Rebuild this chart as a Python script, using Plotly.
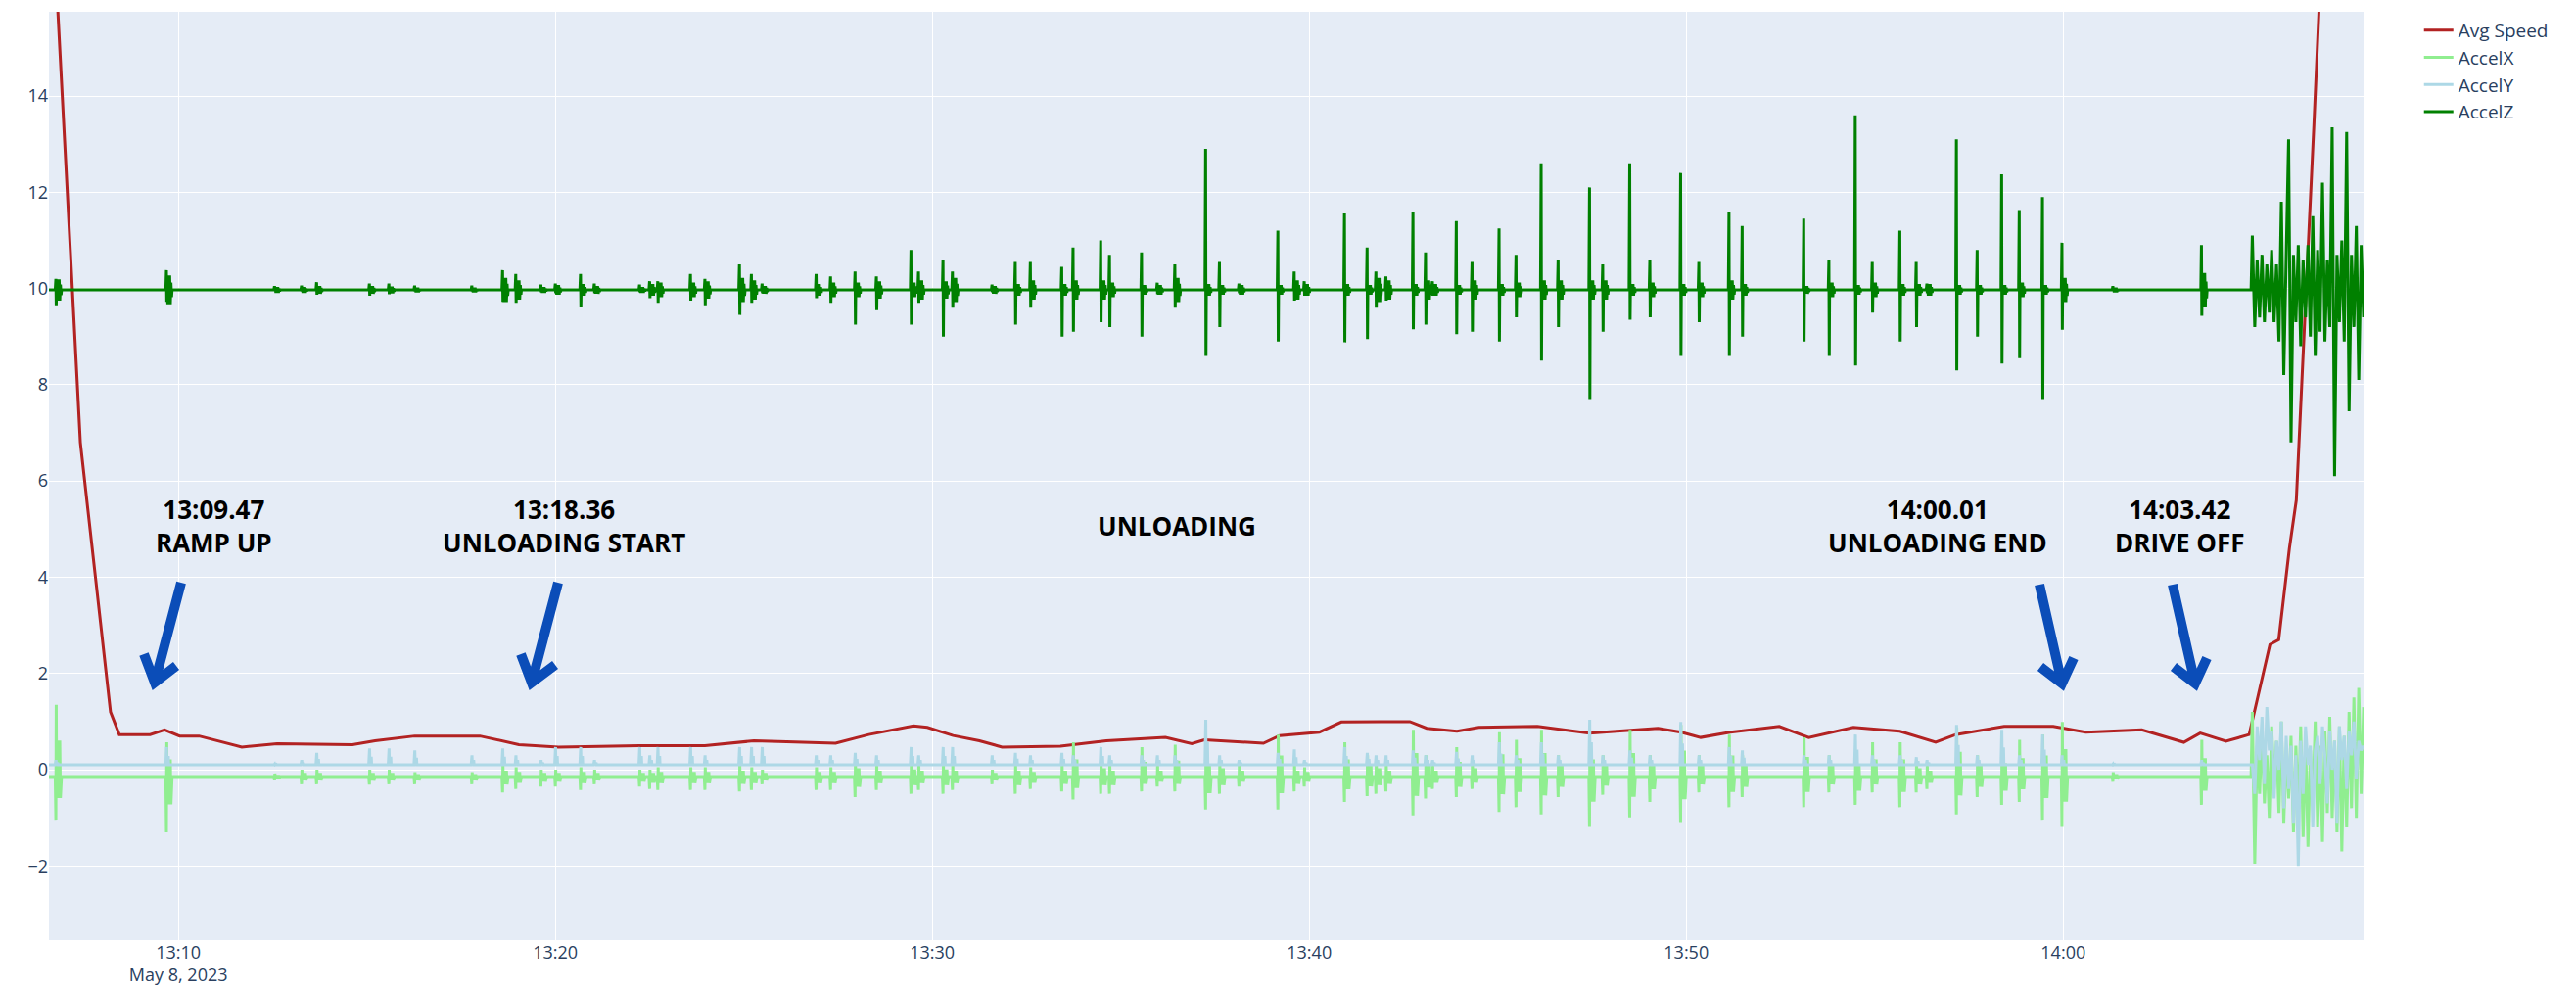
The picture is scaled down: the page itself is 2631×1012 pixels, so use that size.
import pandas as pd
import plotly.graph_objects as go

DAY = "2023-05-08"

# ---------------- data ----------------
speed_times = ["13:06:34", "13:06:48", "13:07:05", "13:07:24", "13:07:48", "13:08:12", "13:08:26",
               "13:09:15", "13:09:38", "13:10:02", "13:10:33", "13:11:41", "13:12:37", "13:14:37",
               "13:15:13", "13:16:16", "13:18:00", "13:19:02", "13:20:05", "13:22:14", "13:23:58",
               "13:25:16", "13:27:26", "13:28:19", "13:29:30", "13:29:52", "13:30:33", "13:31:15",
               "13:31:51", "13:33:24", "13:34:37", "13:36:11", "13:36:53", "13:37:13", "13:38:47",
               "13:39:13", "13:40:16", "13:40:51", "13:41:54", "13:42:40", "13:43:07", "13:43:55",
               "13:44:30", "13:46:03", "13:47:26", "13:49:15", "13:49:52", "13:50:23", "13:51:10",
               "13:52:28", "13:53:15", "13:54:26", "13:55:40", "13:56:37", "13:57:09", "13:58:26",
               "13:59:44", "14:00:36", "14:02:05", "14:03:12", "14:03:38", "14:04:19", "14:04:56",
               "14:05:04", "14:05:29", "14:05:43", "14:06:00", "14:06:11", "14:06:19", "14:06:30",
               "14:06:39", "14:06:47", "14:06:58"]
speed_values = [19.3, 15.75, 11.5, 6.8, 4.0, 1.2, 0.73,
                0.73, 0.83, 0.70, 0.70, 0.47, 0.54, 0.52,
                0.60, 0.70, 0.70, 0.52, 0.47, 0.50, 0.50,
                0.60, 0.55, 0.73, 0.91, 0.88, 0.71, 0.60,
                0.47, 0.49, 0.60, 0.67, 0.54, 0.62, 0.55,
                0.71, 0.78, 0.99, 1.00, 1.00, 0.86, 0.80,
                0.88, 0.90, 0.76, 0.86, 0.78, 0.67, 0.78,
                0.90, 0.67, 0.88, 0.80, 0.57, 0.73, 0.90,
                0.90, 0.78, 0.83, 0.57, 0.76, 0.59, 0.73,
                1.19, 2.6, 2.7, 4.6, 5.6, 7.8, 10.6,
                13.4, 15.75, 18.5]

burst_times = ["13:06:45", "13:09:41", "13:12:33", "13:13:16", "13:13:40", "13:15:04", "13:15:35",
               "13:16:16", "13:17:47", "13:18:36", "13:18:57", "13:19:37", "13:20:00", "13:20:40",
               "13:21:02", "13:22:14", "13:22:30", "13:22:43", "13:23:35", "13:23:58", "13:24:53",
               "13:25:12", "13:25:29", "13:26:55", "13:27:18", "13:27:57", "13:28:31", "13:29:26",
               "13:29:38", "13:30:17", "13:30:32", "13:31:35", "13:32:12", "13:32:36", "13:33:26",
               "13:33:44", "13:34:28", "13:34:42", "13:35:33", "13:35:58", "13:36:26", "13:37:15",
               "13:37:37", "13:38:08", "13:39:10", "13:39:36", "13:39:52", "13:40:56", "13:41:32",
               "13:41:46", "13:42:02", "13:42:45", "13:43:05", "13:43:16", "13:43:54", "13:44:19",
               "13:45:02", "13:45:29", "13:46:09", "13:46:36", "13:47:26", "13:47:47", "13:48:30",
               "13:49:02", "13:49:51", "13:50:20", "13:51:08", "13:51:29", "13:53:07", "13:53:47",
               "13:54:29", "13:54:56", "13:55:40", "13:56:06", "13:56:23", "13:57:10", "13:57:43",
               "13:58:22", "13:58:50", "13:59:27", "13:59:58", "14:01:19", "14:03:40"]
accel_z_high = [10.2, 10.38, 10.05, 10.06, 10.13, 10.1, 10.1,
                10.06, 10.06, 10.38, 10.3, 10.08, 10.1, 10.3,
                10.1, 10.08, 10.15, 10.15, 10.3, 10.2, 10.5,
                10.3, 10.1, 10.3, 10.25, 10.35, 10.25, 10.8,
                10.35, 10.6, 10.35, 10.08, 10.55, 10.55, 10.45,
                10.85, 11.0, 10.7, 10.75, 10.12, 10.5, 12.9,
                10.55, 10.1, 11.2, 10.35, 10.15, 11.56, 10.85,
                10.35, 10.25, 11.6, 10.75, 10.15, 11.4, 10.55,
                11.25, 10.7, 12.6, 10.6, 12.1, 10.5, 12.6,
                10.6, 12.4, 10.55, 11.6, 11.3, 11.45, 10.6,
                13.6, 10.55, 11.2, 10.55, 10.1, 13.1, 10.8,
                12.37, 11.63, 11.9, 10.95, 10.05, 10.9]
accel_z_low = [9.65, 9.72, 9.95, 9.94, 9.87, 9.85, 9.88,
               9.94, 9.94, 9.72, 9.7, 9.92, 9.9, 9.62,
               9.9, 9.92, 9.8, 9.7, 9.75, 9.65, 9.45,
               9.7, 9.9, 9.8, 9.7, 9.25, 9.55, 9.25,
               9.7, 9.0, 9.6, 9.92, 9.25, 9.6, 9.0,
               9.1, 9.3, 9.2, 9.0, 9.88, 9.6, 8.6,
               9.2, 9.9, 8.9, 9.75, 9.85, 8.88, 8.95,
               9.6, 9.75, 9.15, 9.25, 9.85, 9.05, 9.1,
               8.9, 9.4, 8.5, 9.2, 7.7, 9.1, 9.35,
               9.4, 8.6, 9.3, 8.6, 9.0, 8.9, 8.6,
               8.4, 9.5, 8.9, 9.2, 9.9, 8.3, 9.0,
               8.44, 8.55, 7.7, 9.14, 9.95, 9.43]
accel_z_body = [0.22, 0.3, 0.06, 0.06, 0.08, 0.08, 0.07,
                0.05, 0.05, 0.25, 0.2, 0.06, 0.1, 0.12,
                0.08, 0.06, 0.12, 0.15, 0.15, 0.18, 0.25,
                0.2, 0.08, 0.12, 0.15, 0.15, 0.18, 0.15,
                0.2, 0.18, 0.25, 0.08, 0.12, 0.2, 0.12,
                0.2, 0.2, 0.15, 0.1, 0.1, 0.25, 0.12,
                0.1, 0.1, 0.1, 0.2, 0.12, 0.12, 0.1,
                0.25, 0.2, 0.12, 0.2, 0.12, 0.1, 0.2,
                0.12, 0.15, 0.2, 0.2, 0.2, 0.2, 0.12,
                0.15, 0.12, 0.15, 0.2, 0.12, 0.08, 0.15,
                0.1, 0.15, 0.12, 0.12, 0.12, 0.1, 0.1,
                0.1, 0.15, 0.1, 0.25, 0.05, 0.35]
accel_x_high = [1.35, 0.57, -0.08, 0.0, 0.0, 0.0, 0.0,
                -0.05, -0.05, 0.1, 0.05, 0.0, 0.0, 0.05,
                0.0, 0.0, 0.0, 0.05, 0.05, 0.05, 0.1,
                0.05, 0.0, 0.05, 0.05, 0.2, 0.1, 0.15,
                0.1, 0.15, 0.1, 0.0, 0.1, 0.05, 0.1,
                0.57, 0.2, 0.1, 0.47, 0.1, 0.52, 0.3,
                0.2, 0.1, 0.73, 0.1, 0.05, 0.57, 0.3,
                0.2, 0.1, 0.83, 0.3, 0.1, 0.47, 0.2,
                0.78, 0.62, 0.83, 0.3, 0.57, 0.3, 0.83,
                0.3, 0.93, 0.3, 0.73, 0.3, 0.67, 0.3,
                0.3, 0.57, 0.57, 0.2, 0.1, 0.88, 0.3,
                0.4, 0.62, 0.73, 0.99, -0.05, 0.62]
accel_x_low = [-1.04, -1.3, -0.22, -0.3, -0.3, -0.31, -0.3,
               -0.3, -0.3, -0.47, -0.4, -0.35, -0.35, -0.42,
               -0.3, -0.35, -0.4, -0.42, -0.42, -0.42, -0.45,
               -0.42, -0.3, -0.42, -0.42, -0.57, -0.42, -0.5,
               -0.42, -0.5, -0.42, -0.3, -0.5, -0.4, -0.45,
               -0.62, -0.5, -0.5, -0.45, -0.35, -0.45, -0.83,
               -0.5, -0.35, -0.83, -0.45, -0.35, -0.67, -0.55,
               -0.5, -0.45, -0.95, -0.6, -0.4, -0.57, -0.4,
               -0.88, -0.78, -0.93, -0.57, -1.19, -0.52, -0.99,
               -0.67, -1.09, -0.47, -0.78, -0.57, -0.78, -0.47,
               -0.73, -0.47, -0.78, -0.47, -0.4, -0.93, -0.57,
               -0.73, -0.67, -1.04, -1.19, -0.25, -0.73]
accel_y_high = [0.2, 0.47, 0.12, 0.2, 0.35, 0.44, 0.44,
                0.4, 0.3, 0.44, 0.3, 0.2, 0.47, 0.47,
                0.2, 0.47, 0.3, 0.47, 0.47, 0.3, 0.47,
                0.47, 0.47, 0.3, 0.3, 0.35, 0.3, 0.47,
                0.3, 0.47, 0.47, 0.3, 0.35, 0.3, 0.35,
                0.3, 0.47, 0.3, 0.3, 0.3, 0.3, 1.04,
                0.3, 0.2, 0.35, 0.42, 0.2, 0.47, 0.35,
                0.3, 0.3, 0.4, 0.3, 0.2, 0.37, 0.3,
                0.57, 0.3, 0.57, 0.3, 1.04, 0.3, 0.4,
                0.3, 0.99, 0.3, 0.47, 0.4, 0.3, 0.3,
                0.73, 0.3, 0.3, 0.26, 0.2, 0.93, 0.3,
                0.83, 0.3, 0.73, 0.3, 0.12, 0.2]

# noisy drive-off section (regularly sampled readings)
tail_start = "14:05:01"
tail_step_s = 3.85
accel_z_tail = [11.1, 9.2, 10.6, 9.4, 10.7, 9.3, 10.5, 9.5, 10.8, 9.3, 10.5, 8.9,
                11.8, 8.2, 10.9, 13.1, 6.8, 10.7, 9.3, 10.9, 8.8, 10.6, 9.4, 10.9,
                9.0, 11.5, 8.6, 10.8, 9.1, 12.2, 8.9, 10.6, 9.2, 13.35, 6.1, 10.7,
                9.3, 11.0, 8.9, 13.25, 7.45, 10.7, 9.2, 11.3, 8.1, 10.9, 9.4]
accel_x_tail = [1.2, -1.95, 0.5, -0.5, 0.8, -0.7, 0.3, -1.0, 0.9, -0.4, 0.6, -0.9,
                1.0, -1.1, 0.4, -0.6, 0.7, -1.3, 0.5, -0.8, 0.9, -1.4, 0.6, -1.6,
                0.4, -0.7, 1.0, -1.2, 0.5, -1.5, 0.8, -0.9, 1.1, -1.0, 0.6, -1.3,
                0.9, -1.7, 0.7, -1.2, 1.2, -0.8, 1.5, -1.0, 1.7, -0.5, 1.3]
accel_y_tail = [0.1, -0.5, 0.9, 0.2, 1.1, -0.3, 1.3, 0.4, 0.8, -0.6, 0.6, 0.0,
                1.0, -0.8, 0.7, -0.4, 0.5, -1.1, 0.3, -2.0, 0.6, -0.5, 0.9, 0.1,
                0.5, -1.2, 0.4, 0.7, -0.3, 0.9, 0.3, -0.7, 0.8, 0.0, 0.6, -1.1,
                0.9, 0.2, 0.7, -0.4, 0.8, 0.3, 1.0, -0.2, 0.6, 0.4, 0.5]

accel_x_rest = -0.14
accel_y_rest = 0.1
accel_z_rest = 9.97

x_start, x_end = "13:06:34", "14:07:58"
y_range = [-3.54, 15.75]

labels = ["<b>13:09.47<br>RAMP UP</b>", "<b>13:18.36<br>UNLOADING START</b>",
          "<b>UNLOADING</b>", "<b>14:00.01<br>UNLOADING END</b>", "<b>14:03.42<br>DRIVE OFF</b>"]


# ---------------- building ----------------
def ts(hms):
    return pd.Timestamp(f"{DAY} {hms}")


def sec(s):
    return pd.Timedelta(seconds=s)


def build(rest, burst_fn, tail):
    pts = [(ts(x_start), rest)]
    for i, t in enumerate(burst_times):
        T = ts(t)
        for off, v in burst_fn(i, rest):
            pts.append((T + sec(off), v))
    t0 = ts(tail_start)
    pts.append((t0 - sec(2), rest))
    for k, v in enumerate(tail):
        pts.append((t0 + sec(k * tail_step_s), v))
    pts.sort(key=lambda p: p[0])
    return [p[0] for p in pts], [p[1] for p in pts]


def z_burst(i, r):
    hi, lo, b = accel_z_high[i], accel_z_low[i], accel_z_body[i]
    return [(-1, r), (0, hi), (0.6, lo), (1.2, r + b), (2.2, r - b), (3.2, r + b),
            (4.2, r - b), (5.2, r + b), (6.2, r - b), (7.2, r + b / 2), (8.2, r - b / 2), (9, r)]


def x_burst(i, r):
    hi, lo = accel_x_high[i], accel_x_low[i]
    return [(-1, r), (0, lo), (0.6, hi), (1.2, (r + lo) / 2), (2.2, (r + hi) / 2),
            (3.2, (r + lo) / 2), (4.2, (r + hi) / 2), (5.2, (r + lo) / 2), (6.2, (r + hi) / 2),
            (7.2, (r + lo) / 2), (9, r)]


def y_burst(i, r):
    hi = accel_y_high[i]
    return [(-1, r), (0.3, hi), (0.9, r), (3, (r + hi) / 2), (3.6, r), (9, r)]


zx, zy = build(accel_z_rest, z_burst, accel_z_tail)
xx, xy = build(accel_x_rest, x_burst, accel_x_tail)
yx, yy = build(accel_y_rest, y_burst, accel_y_tail)

fig = go.Figure()
fig.add_trace(go.Scatter(x=[ts(t) for t in speed_times], y=speed_values, mode="lines",
                         name="Avg Speed", line=dict(color="firebrick", width=3)))
fig.add_trace(go.Scatter(x=xx, y=xy, mode="lines", name="AccelX",
                         line=dict(color="lightgreen", width=3)))
fig.add_trace(go.Scatter(x=yx, y=yy, mode="lines", name="AccelY",
                         line=dict(color="lightblue", width=3)))
fig.add_trace(go.Scatter(x=zx, y=zy, mode="lines", name="AccelZ",
                         line=dict(color="green", width=3)))

# layout geometry (pixels) for decorations
W, H = 2631, 1012
PL, PR, PT, PB = 50, 2414, 12, 960


def paper(px, py):
    return (px - PL) / (PR - PL), (PB - py) / (PB - PT)


label_pos = [(218, 537), (576, 537), (1202, 537), (1979, 537), (2226, 537)]
annotations = []
for text, (px, py) in zip(labels, label_pos):
    ax_, ay_ = paper(px, py)
    annotations.append(dict(text=text, x=ax_, y=ay_, xref="paper", yref="paper",
                            xanchor="center", yanchor="middle", showarrow=False,
                            font=dict(family="Open Sans", size=26, color="black")))

arrows = [((185, 595), (158, 697), (147, 668), (180, 680)),
          ((570, 595), (543, 697), (532, 668), (567, 679)),
          ((2083, 597), (2106, 698), (2084, 681), (2118, 672)),
          ((2219, 597), (2242, 698), (2220, 681), (2254, 672))]
shapes = []
for tail, tip, wl, wr in arrows:
    p = [paper(*q) for q in (tail, tip, wl, wr)]
    path = (f"M{p[0][0]},{p[0][1]} L{p[1][0]},{p[1][1]} "
            f"M{p[2][0]},{p[2][1]} L{p[1][0]},{p[1][1]} L{p[3][0]},{p[3][1]}")
    shapes.append(dict(type="path", path=path, xref="paper", yref="paper",
                       line=dict(color="#0b4db8", width=10)))

fig.update_layout(
    width=W, height=H,
    margin=dict(l=PL, r=W - PR, t=PT, b=H - PB),
    template="plotly",
    font=dict(size=18),
    legend=dict(x=1.024, y=1, xanchor="left", yanchor="top", font=dict(size=19)),
    annotations=annotations,
    shapes=shapes,
    showlegend=True,
)
fig.update_xaxes(range=[ts(x_start), ts(x_end)], dtick=600000, automargin=False,
                 tickfont=dict(size=18), gridwidth=1.2)
fig.update_yaxes(range=y_range, dtick=2, automargin=False, tickfont=dict(size=18),
                 gridwidth=1.2, zeroline=False)

fig.write_html("out.html", config={"displayModeBar": False},
               post_script="document.body.style.margin='0px';")
